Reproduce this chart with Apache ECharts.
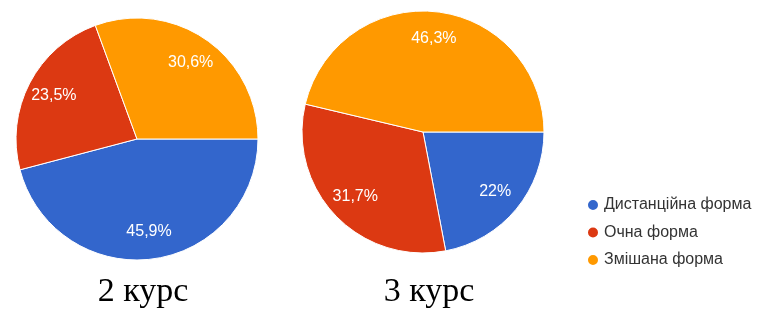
<!DOCTYPE html>
<html><head><meta charset="utf-8">
<script src="https://cdn.jsdelivr.net/npm/echarts@6/dist/echarts.min.js"></script>
<style>html,body{margin:0;padding:0;background:#fff}#c{width:757px;height:309px}</style>
</head><body><div id="c"></div>
<script>
const categories = ['Дистанційна форма', 'Очна форма', 'Змішана форма'];
const course2 = [45.9, 23.5, 30.6];
const course3 = [22, 31.7, 46.3];
const titles = ['2 курс', '3 курс'];
const colors = ['#3366cc', '#dc3912', '#ff9900'];

const chart = echarts.init(document.getElementById('c'));
function mk(vals){ return categories.map((n,i)=>({name:n, value:vals[i]})); }
function fmt(p){ return String(p.value).replace('.', ',') + '%'; }
const centers = [[137,139],[423,132]];
const R = 121;
const series = [];
[course2, course3].forEach((vals, k) => {
  series.push({
    type:'pie', center:centers[k], radius:[0,R], startAngle:0, clockwise:true,
    data:mk(vals), label:{show:false}, labelLine:{show:false},
    itemStyle:{borderColor:'#fff', borderWidth:1}, silent:true, animation:false
  });
  series.push({
    type:'pie', center:centers[k], radius:[R*0.5,R], startAngle:0, clockwise:true,
    data:mk(vals), itemStyle:{color:'rgba(0,0,0,0)'}, labelLine:{show:false},
    label:{show:true, position:'inside', formatter:fmt, color:'#fff', fontFamily:'Arial, Liberation Sans', fontSize:16},
    silent:true, animation:false, legendHoverLink:false
  });
});
chart.setOption({
  animation:false,
  color:colors,
  title: titles.map((t,k)=>({text:t, left:[138,424][k], top:270, textAlign:'center',
    textStyle:{fontFamily:'Liberation Serif, Times New Roman', fontWeight:'normal', fontSize:34, color:'#000'}})),
  legend:{orient:'vertical', left:581, top:192, icon:'circle', itemWidth:12, itemHeight:12, itemGap:11.5,
    data:categories, selectedMode:false,
    textStyle:{fontFamily:'Arial, Liberation Sans', fontSize:16, color:'#333'}},
  series:series
});
</script></body></html>
